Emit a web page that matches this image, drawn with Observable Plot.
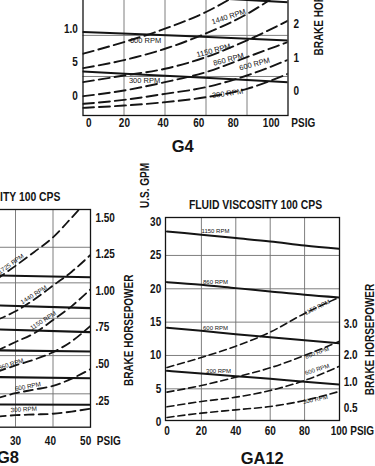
<!DOCTYPE html>
<html><head><meta charset="utf-8">
<script src="https://cdn.jsdelivr.net/npm/d3@7"></script>
<script src="https://cdn.jsdelivr.net/npm/@observablehq/plot@0.6"></script>
<style>
html,body{margin:0;padding:0;background:#fff;}
#page{position:relative;width:375px;height:466px;overflow:hidden;background:#fff;}
#page svg{position:absolute;}
</style></head><body><div id="page"></div>
<script>
// ---------- GA12 (bottom right) ----------
const ga12Psig = [0, 20, 40, 60, 80, 100];
const ga12Gpm1150 = [28.6, 28.1, 27.6, 27.1, 26.5, 26.0];
const ga12Gpm860 = [21.0, 20.6, 20.1, 19.6, 19.1, 18.7];
const ga12Gpm600 = [14.15, 13.7, 13.2, 12.75, 12.3, 11.85];
const ga12Gpm300 = [7.7, 7.3, 6.9, 6.5, 6.05, 5.65];
const ga12Hp1150 = [8.2, 9.7, 11.4, 13.5, 16.3, 18.7];
const ga12Hp860 = [4.5, 5.5, 6.75, 8.15, 10.0, 12.1];
const ga12Hp600 = [2.3, 3.1, 3.75, 4.75, 6.25, 8.35];
const ga12Hp300 = [0.7, 1.35, 1.85, 2.35, 3.25, 4.6];
const ga12GridX = [20, 40, 60, 80];
const ga12GridY = [5, 10, 15, 20, 25];
const ga12LeftTicks = [0, 5, 10, 15, 20, 25, 30];
const ga12LeftLabels = ["0", "5", "10", "15", "20", "25", "30"];
const ga12BottomTicks = [0, 20, 40, 60, 80, 100];
const ga12BottomLabels = ["0", "20", "40", "60", "80", "100"];
const ga12RightTicks = [14.65, 10.0, 6.0, 2.16];
const ga12RightLabels = ["3.0", "2.0", "1.0", "0.5"];
const ga12CurveText = ["1150 RPM", "860 RPM", "600 RPM", "300 RPM", "1150 RPM", "860 RPM", "600 RPM", "300 RPM"];
const ga12CurveX = [28.2, 28.2, 28.2, 30, 87.3, 87.3, 87.3, 86.3];
const ga12CurveY = [28.65, 21.0, 14.15, 7.65, 17.2, 10.4, 7.9, 3.4];
const ga12CurveAngle = [0, 0, 0, 0, -26, -20, -18, -12];

// ---------- G8 (bottom left, cropped) ----------
const g8SolidPsig = [25, 50];
const g8Gpm1725 = [1.105, 1.092];
const g8Gpm1440 = [0.900, 0.881];
const g8Gpm1150 = [0.736, 0.717];
const g8Gpm860 = [0.593, 0.585];
const g8Gpm600 = [0.410, 0.402];
const g8Gpm300 = [0.223, 0.221];
const g8Psig = [25, 30, 35, 40, 45, 50];
const g8Hp1725 = [1.08, 1.17, 1.265, 1.365, 1.50, 1.64];
const g8Hp1440 = [0.80, 0.86, 0.94, 1.035, 1.13, 1.245];
const g8Hp1150 = [0.59, 0.65, 0.71, 0.80, 0.895, 1.01];
const g8Hp860 = [0.445, 0.49, 0.53, 0.58, 0.655, 0.76];
const g8Hp600 = [0.265, 0.30, 0.325, 0.35, 0.40, 0.465];
const g8Hp300 = [0.14, 0.15, 0.155, 0.16, 0.175, 0.195];
const g8GridX = [10, 20, 30, 40];
const g8GridY = [0.296, 0.557, 0.812, 1.054, 1.297];
const g8BottomTicks = [2, 11.3, 20.7, 30, 39.3, 48.7];
const g8BottomLabels = ["0", "10", "20", "30", "40", "50"];
const g8RightTicks = [1.5, 1.25, 1.0, 0.75, 0.5, 0.25];
const g8RightLabels = ["1.50", "1.25", "1.00", ".75", ".50", ".25"];
const g8CurveText = ["1725 RPM", "1440 RPM", "1150 RPM", "860 RPM", "600 RPM", "300 RPM"];
const g8CurveX = [28.8, 34.9, 37.4, 28.8, 33.3, 32.2];
const g8CurveY = [1.183, 0.972, 0.796, 0.498, 0.346, 0.189];
const g8CurveAngle = [-35, -32, -33, -18, -11, -3];

// ---------- G4 (top, cropped) ----------
const g4SolidPsig = [0, 50, 100];
const g4Gpm1150 = [15.7, 14.9, 14.07];
const g4Gpm600 = [9.6, 9.0, 8.35];
const g4Gpm300 = [3.7, 2.9, 2.1];
const g4Psig = [0, 20, 40, 60, 80, 100];
const g4Hp1725 = [6.35, 8.1, 10.1, 12.6, 16.0, 19.5];
const g4Hp1440 = [4.2, 5.4, 7.1, 9.4, 12.3, 16.3];
const g4Hp1150 = [2.1, 3.1, 4.1, 5.85, 8.35, 11.3];
const g4Hp860 = [0, 0.85, 2.1, 3.6, 5.85, 8.1];
const g4Hp600 = [-1.15, -0.55, 0.35, 1.35, 3.1, 5.45];
const g4Hp300 = [-1.75, -1.4, -0.9, -0.15, 1.1, 3.35];
const g4GridX = [20, 40, 60, 80];
const g4GridY = [2.95, 9.1];
const g4LeftTicks = [10.09, 5.09, 0];
const g4LeftLabels = ["1.0", "5", "0"];
const g4RightTicks = [10.8, 5.75, 0.78];
const g4RightLabels = ["2", "1", "0"];
const g4BottomTicks = [2.8, 20.2, 39.1, 56.5, 73.3, 91.8];
const g4BottomLabels = ["0", "20", "40", "60", "80", "100"];
const g4CurveText = ["600 RPM", "300 RPM", "1440 RPM", "1150 RPM", "860 RPM", "600 RPM", "300 RPM"];
const g4CurveX = [30.5, 30, 71, 63.7, 71, 83.7, 70.5];
const g4CurveY = [8.34, 2.28, 11.9, 6.84, 5.5, 4.8, 0.4];
const g4CurveAngle = [0, 0, -18, -15, -15, -15, -8];

// Condensed bold look: Arial-metric font squeezed horizontally after rendering
const COND = "'Liberation Sans', Arial, Helvetica, sans-serif";
const SANS = "'Liberation Sans', Arial, 'DejaVu Sans', sans-serif";
const SQUEEZE = 0.8;
const INK = "#141414";

function pts(xs, ys) { return xs.map((x, i) => ({x, y: ys[i]})); }
function rows(vals, labels) { return vals.map((v, i) => ({v, t: labels[i]})); }
function curveRows(t, x, y, r) { return t.map((s, i) => ({t: s, x: x[i], y: y[i], r: r[i]})); }

const tickFont = {fontFamily: COND, fontWeight: "bold", fontSize: 12.5, fill: INK};

function squeeze(svg) {
  svg.querySelectorAll("g[font-family]").forEach(g => {
    if (g.getAttribute("font-family") !== COND) return;
    g.querySelectorAll("text").forEach(t => {
      const tr = t.getAttribute("transform") || "";
      t.setAttribute("transform", `${tr} scale(${SQUEEZE},1)`);
    });
  });
}

function build(c) {
  const marks = [
    Plot.ruleX(c.gridX, {stroke: "#707070", strokeWidth: 0.9}),
    Plot.ruleY(c.gridY, {stroke: "#707070", strokeWidth: 0.9}),
    ...c.solid.map(s => Plot.line(pts(s[0], s[1]), {x: "x", y: "y", stroke: INK, strokeWidth: c.solidW, curve: "monotone-x", clip: true})),
    ...c.dashed.map(s => Plot.line(pts(s[0], s[1]), {x: "x", y: "y", stroke: INK, strokeWidth: c.dashW, strokeDasharray: c.dash, curve: "monotone-x", clip: true})),
    Plot.frame({stroke: INK, strokeWidth: 1.3}),
    Plot.text(c.curveLabels, {x: "x", y: "y", text: "t", rotate: "r", fontSize: c.labelSize, fontFamily: SANS, fill: INK})
  ];
  if (c.left) marks.push(Plot.text(c.left, {y: "v", text: "t", frameAnchor: "left", dx: c.leftDx, textAnchor: "end", ...tickFont}));
  if (c.right) marks.push(Plot.text(c.right, {y: "v", text: "t", frameAnchor: "right", dx: c.rightDx, textAnchor: "start", ...tickFont}));
  marks.push(Plot.text(c.bottom, {x: "v", text: "t", frameAnchor: "bottom", dy: c.bottomDy, lineAnchor: "middle", ...tickFont}));
  for (const a of c.annotations) {
    marks.push(Plot.text([a.text], {text: d => d, frameAnchor: a.anchor, dx: a.dx, dy: a.dy, rotate: a.rotate || 0,
      lineAnchor: "middle", textAnchor: a.textAnchor || "middle", fontFamily: a.family || COND, fontWeight: "bold", fontSize: a.size || 12.5, fill: INK}));
  }
  const svg = Plot.plot({
    width: c.width, height: c.height,
    marginLeft: c.m[0], marginRight: c.m[1], marginTop: c.m[2], marginBottom: c.m[3],
    x: {domain: c.xDomain, axis: null},
    y: {domain: c.yDomain, axis: null},
    style: {background: "transparent", maxWidth: "none", overflow: "visible", fontFamily: SANS},
    marks
  });
  squeeze(svg);
  svg.style.left = c.left0 + "px";
  svg.style.top = c.top0 + "px";
  return svg;
}

const page = document.getElementById("page");

// G8
page.appendChild(build({
  width: 290, height: 466, left0: -110, top0: 0,
  m: [12.5, 90, 209, 39.3],
  xDomain: [0, 50], yDomain: [0.068, 1.555],
  gridX: g8GridX, gridY: g8GridY,
  solid: [[g8SolidPsig, g8Gpm1725], [g8SolidPsig, g8Gpm1440], [g8SolidPsig, g8Gpm1150], [g8SolidPsig, g8Gpm860], [g8SolidPsig, g8Gpm600], [g8SolidPsig, g8Gpm300]],
  dashed: [[g8Psig, g8Hp1725], [g8Psig, g8Hp1440], [g8Psig, g8Hp1150], [g8Psig, g8Hp860], [g8Psig, g8Hp600], [g8Psig, g8Hp300]],
  solidW: 2.1, dashW: 1.8, dash: "9,5",
  curveLabels: curveRows(g8CurveText, g8CurveX, g8CurveY, g8CurveAngle), labelSize: 6.3,
  right: rows(g8RightTicks, g8RightLabels), rightDx: 5,
  bottom: rows(g8BottomTicks, g8BottomLabels), bottomDy: 13.3,
  annotations: [
    {text: "FLUID VISCOSITY 100 CPS", anchor: "top-right", dx: -30, dy: -13, textAnchor: "end", size: 13},
    {text: "BRAKE HORSEPOWER", anchor: "right", dx: 38, dy: 12, rotate: -90},
    {text: "PSIG", anchor: "bottom-right", dx: 18.3, dy: 13.3},
    {text: "G8", anchor: "bottom-right", dx: -71.5, dy: 31, textAnchor: "end", family: SANS, size: 16.5}
  ]
}));

// GA12
page.appendChild(build({
  width: 375, height: 466, left0: 0, top0: 0,
  m: [165, 36, 217, 46],
  xDomain: [-0.87, 100.3], yDomain: [0.25, 30.69],
  gridX: ga12GridX, gridY: ga12GridY,
  solid: [[ga12Psig, ga12Gpm1150], [ga12Psig, ga12Gpm860], [ga12Psig, ga12Gpm600], [ga12Psig, ga12Gpm300]],
  dashed: [[ga12Psig, ga12Hp1150], [ga12Psig, ga12Hp860], [ga12Psig, ga12Hp600], [ga12Psig, ga12Hp300]],
  solidW: 2, dashW: 1.6, dash: "7,4",
  curveLabels: curveRows(ga12CurveText, ga12CurveX, ga12CurveY, ga12CurveAngle), labelSize: 6,
  left: rows(ga12LeftTicks, ga12LeftLabels), leftDx: -4.3,
  right: rows(ga12RightTicks, ga12RightLabels), rightDx: 4.3,
  bottom: rows(ga12BottomTicks, ga12BottomLabels), bottomDy: 10,
  annotations: [
    {text: "FLUID VISCOSITY 100 CPS", anchor: "top", dx: 3, dy: -13, size: 13},
    {text: "U.S. GPM", anchor: "top-left", dx: -20.5, dy: -32, rotate: -90},
    {text: "BRAKE HORSEPOWER", anchor: "right", dx: 30, dy: 20.5, rotate: -90},
    {text: "PSIG", anchor: "bottom-right", dx: 22.7, dy: 10},
    {text: "GA12", anchor: "bottom", dx: 9.7, dy: 38, family: SANS, size: 16.5}
  ]
}));

// G4
page.appendChild(build({
  width: 375, height: 200, left0: 0, top0: -40,
  m: [82.5, 87.5, 30, 45],
  xDomain: [0, 100], yDomain: [-2.89, 15.82],
  gridX: g4GridX, gridY: g4GridY,
  solid: [[g4SolidPsig, g4Gpm1150], [g4SolidPsig, g4Gpm600], [g4SolidPsig, g4Gpm300]],
  dashed: [[g4Psig, g4Hp1725], [g4Psig, g4Hp1440], [g4Psig, g4Hp1150], [g4Psig, g4Hp860], [g4Psig, g4Hp600], [g4Psig, g4Hp300]],
  solidW: 2, dashW: 1.9, dash: "11,5",
  curveLabels: curveRows(g4CurveText, g4CurveX, g4CurveY, g4CurveAngle), labelSize: 7.5,
  left: rows(g4LeftTicks, g4LeftLabels), leftDx: -5.2,
  right: rows(g4RightTicks, g4RightLabels), rightDx: 5.5,
  bottom: rows(g4BottomTicks, g4BottomLabels), bottomDy: 7.7,
  annotations: [
    {text: "BRAKE HORSEPOWER", anchor: "right", dx: 30.8, dy: 2.5, rotate: -90, textAnchor: "start"},
    {text: "PSIG", anchor: "bottom-right", dx: 15.3, dy: 7.7},
    {text: "G4", anchor: "bottom", dx: -2.8, dy: 30.8, family: SANS, size: 16.5}
  ]
}));
</script></body></html>
